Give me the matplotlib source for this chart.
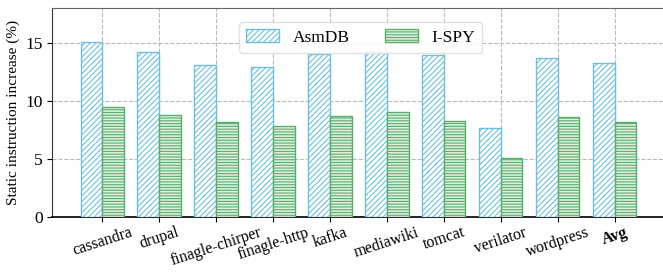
import matplotlib.pyplot as plt
import numpy as np

plt.rcParams["font.family"] = ["Liberation Serif", "DejaVu Serif"]
plt.rcParams["hatch.linewidth"] = 0.8

# ── Data ───────────────────────────────────────────────────────────────────────
apps = ["cassandra", "drupal", "finagle-chirper", "finagle-http", "kafka",
        "mediawiki", "tomcat", "verilator", "wordpress", "Avg"]
asmdb = [15.1, 14.2, 13.1, 12.9, 14.05, 14.35, 13.97, 7.65, 13.75, 13.25]
ispy = [9.48, 8.82, 8.22, 7.82, 8.68, 9.02, 8.25, 5.11, 8.62, 8.22]

BLUE = "#6cc0de"
GREEN = "#5aae6c"

fig, ax = plt.subplots(figsize=(6.63, 2.73), dpi=100)
fig.subplots_adjust(left=0.079, right=1.0, top=0.97, bottom=0.205)

x = np.arange(len(apps))
w = 0.38
ax.bar(x - w / 2, asmdb, w, facecolor="white", edgecolor=BLUE, hatch="//////",
       linewidth=1.0, label="AsmDB", zorder=3)
ax.bar(x + w / 2, ispy, w, facecolor="#deefdf", edgecolor=GREEN, hatch="------",
       linewidth=1.0, label="I-SPY", zorder=3)

ax.set_xlim(-0.875, 9.85)
ax.set_ylim(0, 18)
ax.set_yticks([0, 5, 10, 15])
ax.set_xticks(x)
ax.set_xticklabels(apps, rotation=18, ha="center", fontsize=11.5)
ax.get_xticklabels()[-1].set_fontweight("bold")
ax.tick_params(axis="x", pad=2)
ax.tick_params(axis="y", labelsize=12.5)
ax.set_ylabel("Static instruction increase (%)", fontsize=11)

ax.grid(True, linestyle="--", color="#b8b8b8", linewidth=0.8, zorder=0)
ax.spines["top"].set_color("#666666")
ax.spines["right"].set_visible(False)
ax.spines["left"].set_color("#333333")
ax.spines["bottom"].set_linewidth(1.2)

ax.legend(loc="upper center", bbox_to_anchor=(0.505, 0.975), ncol=2, fontsize=12.5,
          handlelength=1.9, handleheight=0.8, columnspacing=2.0,
          framealpha=0.9, edgecolor="#dddddd")

plt.savefig("out.png", dpi=100)
